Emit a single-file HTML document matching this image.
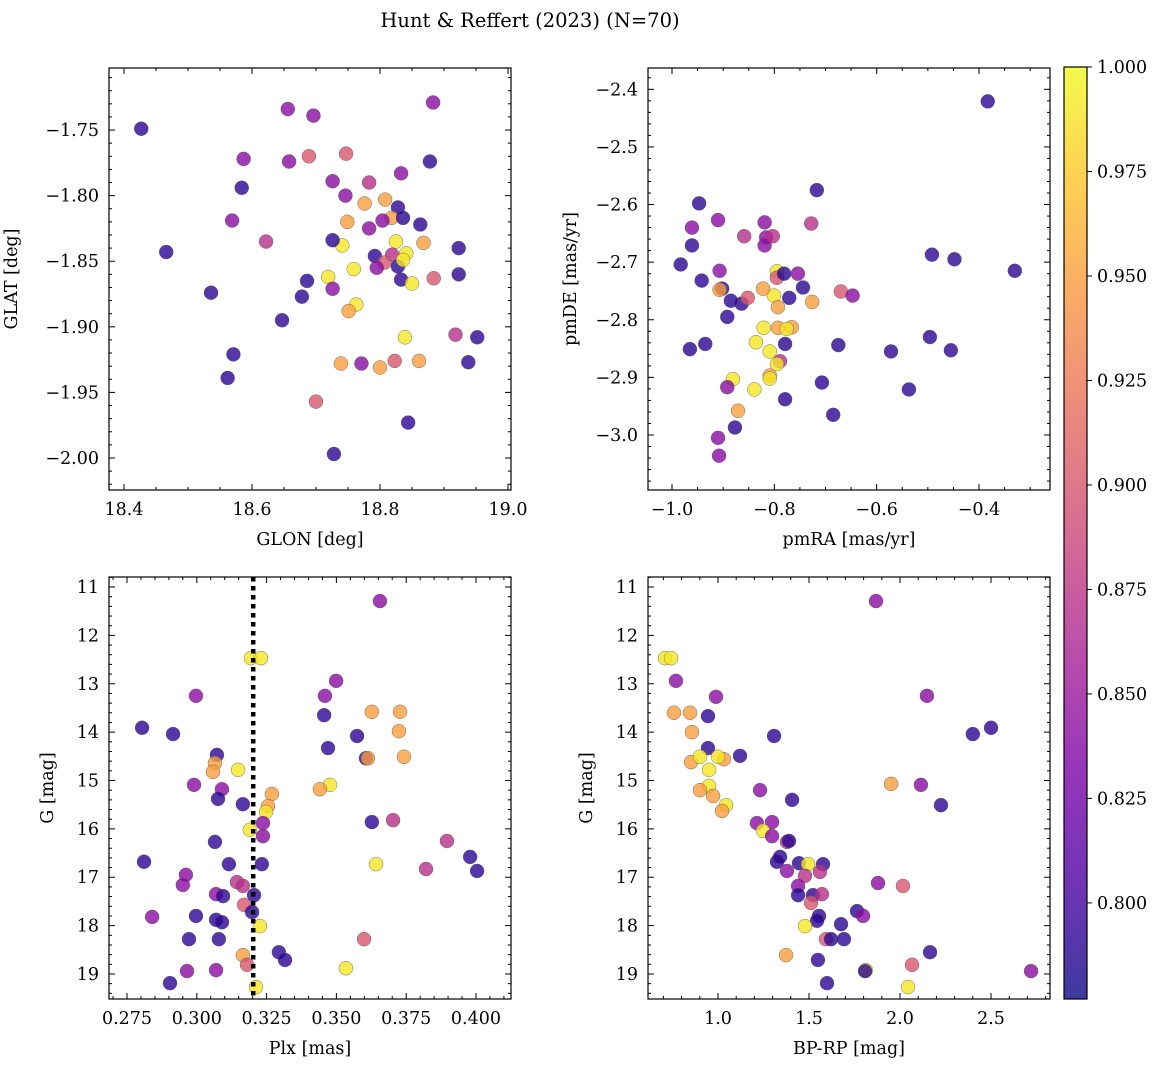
<!DOCTYPE html>
<html><head><meta charset="utf-8"><style>
body{margin:0;background:#fff}
svg text{font-family:"DejaVu Serif","Liberation Serif",serif;fill:#000}
</style></head><body>
<svg id="fig" width="1161" height="1067" viewBox="0 0 1161 1067" xmlns="http://www.w3.org/2000/svg">
<defs><linearGradient id="cbg" x1="0" y1="1" x2="0" y2="0">
<stop offset="0" stop-color="#0d0887" stop-opacity="0.8"/><stop offset="0.125" stop-color="#4c02a1" stop-opacity="0.8"/><stop offset="0.25" stop-color="#7e03a8" stop-opacity="0.8"/><stop offset="0.375" stop-color="#a92395" stop-opacity="0.8"/><stop offset="0.5" stop-color="#cc4778" stop-opacity="0.8"/><stop offset="0.625" stop-color="#e56b5d" stop-opacity="0.8"/><stop offset="0.75" stop-color="#f89441" stop-opacity="0.8"/><stop offset="0.875" stop-color="#fdc328" stop-opacity="0.8"/><stop offset="1" stop-color="#f0f921" stop-opacity="0.8"/>
</linearGradient></defs>
<text x="530" y="27" font-size="19.5" text-anchor="middle">Hunt &amp; Reffert (2023) (N=70)</text>
</svg>
<script>
const B=0.79,P=0.84,M=0.87,K=0.90,O=0.95,Y=0.99;
const glon=[18.427,18.883,18.656,18.696,18.587,18.658,18.689,18.747,18.726,18.783,18.833,18.878,18.584,18.746,18.569,18.808,18.776,18.828,18.749,18.818,18.836,18.863,18.804,18.783,18.622,18.825,18.868,18.741,18.726,18.923,18.466,18.792,18.819,18.841,18.807,18.795,18.759,18.828,18.836,18.833,18.719,18.686,18.923,18.884,18.726,18.678,18.850,18.536,18.763,18.751,18.647,18.839,18.918,18.952,18.571,18.739,18.771,18.800,18.823,18.861,18.938,18.562,18.700,18.844,18.728];
const glat=[-1.749,-1.729,-1.734,-1.739,-1.772,-1.774,-1.770,-1.768,-1.789,-1.790,-1.783,-1.774,-1.794,-1.800,-1.819,-1.803,-1.806,-1.809,-1.820,-1.817,-1.817,-1.822,-1.819,-1.825,-1.835,-1.835,-1.836,-1.838,-1.834,-1.840,-1.843,-1.846,-1.845,-1.844,-1.851,-1.855,-1.856,-1.854,-1.849,-1.864,-1.862,-1.865,-1.860,-1.863,-1.871,-1.877,-1.867,-1.874,-1.883,-1.888,-1.895,-1.908,-1.906,-1.908,-1.921,-1.928,-1.928,-1.931,-1.926,-1.926,-1.927,-1.939,-1.957,-1.973,-1.997];
const probA=[B,P,P,P,P,P,K,K,P,M,P,B,B,P,P,O,O,B,O,O,B,B,P,P,M,Y,O,Y,B,B,B,B,M,Y,K,P,Y,B,Y,B,Y,B,B,K,P,B,Y,B,Y,O,B,Y,M,B,B,O,P,O,K,O,B,B,K,B,B];
const pmra=[-0.383,-0.947,-0.717,-0.961,-0.910,-0.961,-0.983,-0.942,-0.859,-0.819,-0.819,-0.728,-0.816,-0.907,-0.902,-0.907,-0.864,-0.885,-0.892,-0.852,-0.795,-0.795,-0.781,-0.771,-0.801,-0.822,-0.793,-0.726,-0.744,-0.766,-0.821,-0.793,-0.776,-0.754,-0.779,-0.836,-0.809,-0.789,-0.795,-0.809,-0.809,-0.881,-0.892,-0.839,-0.871,-0.779,-0.877,-0.910,-0.908,-0.965,-0.935,-0.707,-0.685,-0.675,-0.803,-0.670,-0.647,-0.572,-0.537,-0.496,-0.455,-0.492,-0.448,-0.330];
const pmde=[-2.421,-2.598,-2.575,-2.671,-2.627,-2.640,-2.704,-2.732,-2.655,-2.671,-2.631,-2.633,-2.657,-2.715,-2.746,-2.748,-2.772,-2.767,-2.795,-2.762,-2.716,-2.727,-2.720,-2.762,-2.758,-2.746,-2.778,-2.769,-2.744,-2.813,-2.814,-2.814,-2.816,-2.720,-2.842,-2.839,-2.855,-2.872,-2.877,-2.897,-2.902,-2.903,-2.917,-2.921,-2.958,-2.938,-2.987,-3.005,-3.036,-2.851,-2.842,-2.909,-2.965,-2.844,-2.655,-2.751,-2.758,-2.855,-2.921,-2.830,-2.853,-2.687,-2.695,-2.715];
const probB=[B,B,B,B,P,P,B,B,M,P,P,M,P,P,B,O,B,B,B,K,Y,K,B,B,Y,O,O,O,B,O,Y,O,Y,P,B,Y,Y,M,Y,O,Y,Y,P,Y,O,B,B,P,P,B,B,B,B,B,M,K,P,B,B,B,B,B,B,B];
const plx=[0.3656,0.3194,0.3230,0.3499,0.2997,0.3459,0.3627,0.3728,0.3456,0.2804,0.2915,0.3724,0.3574,0.3470,0.3606,0.3613,0.3742,0.3072,0.3065,0.3058,0.3148,0.3477,0.2990,0.3441,0.3090,0.3269,0.3255,0.3076,0.3165,0.3248,0.3703,0.3627,0.3237,0.3190,0.3237,0.3065,0.3896,0.2811,0.3115,0.3233,0.3642,0.3979,0.4004,0.3821,0.2961,0.2950,0.3144,0.3165,0.3069,0.3094,0.3205,0.3169,0.3198,0.2997,0.2840,0.3069,0.3090,0.3226,0.2972,0.3079,0.3599,0.3165,0.3294,0.3180,0.3316,0.3534,0.2965,0.3069,0.2904,0.3212];
const gC=[11.29,12.47,12.47,12.94,13.25,13.25,13.58,13.58,13.65,13.91,14.04,13.98,14.08,14.33,14.54,14.54,14.51,14.47,14.64,14.82,14.78,15.09,15.09,15.18,15.18,15.28,15.53,15.38,15.49,15.65,15.82,15.86,15.88,16.02,16.15,16.27,16.25,16.68,16.73,16.73,16.73,16.58,16.87,16.83,16.95,17.16,17.10,17.18,17.35,17.39,17.37,17.57,17.72,17.80,17.82,17.88,17.93,18.01,18.28,18.28,18.28,18.61,18.55,18.81,18.71,18.88,18.94,18.92,19.19,19.27];
const probC=[P,Y,Y,P,P,P,O,O,B,B,B,O,B,B,B,O,O,B,O,O,Y,Y,P,O,P,O,O,B,B,Y,M,B,P,Y,P,B,M,B,B,B,Y,B,B,M,P,P,M,M,P,B,B,K,B,B,P,B,B,Y,B,B,K,O,B,K,B,Y,P,P,B,Y];
const bprp=[1.868,0.709,0.742,0.769,0.989,2.148,0.758,0.846,0.945,2.5,2.40,0.857,1.308,0.945,1.033,1.0,1.121,0.852,0.901,0.951,1.951,2.115,0.951,0.901,0.973,1.044,2.225,1.231,1.407,1.022,1.297,1.214,1.247,1.297,1.379,1.390,1.324,1.445,1.341,1.577,1.495,1.478,1.379,1.560,1.879,2.016,1.440,1.440,1.522,1.511,1.571,1.764,1.797,1.555,1.544,1.676,1.478,1.593,1.621,1.692,1.374,2.165,1.549,2.066,1.813,1.808,2.720,1.599,2.044];
const gD=[11.29,12.47,12.47,12.94,13.27,13.25,13.60,13.60,13.67,13.91,14.04,14.00,14.08,14.33,14.56,14.51,14.49,14.62,14.51,14.78,15.07,15.09,15.11,15.20,15.32,15.51,15.51,15.20,15.40,15.63,15.86,15.88,16.04,16.15,16.27,16.25,16.68,16.71,16.58,16.73,16.73,16.97,16.87,16.89,17.12,17.18,17.18,17.37,17.37,17.53,17.35,17.70,17.80,17.80,17.90,17.97,18.01,18.28,18.28,18.28,18.61,18.55,18.71,18.81,18.92,18.94,18.94,19.19,19.27];
const probD=[P,Y,Y,P,P,P,O,O,B,B,B,O,B,B,O,Y,B,O,Y,Y,O,P,Y,O,O,Y,B,P,B,O,P,P,Y,P,M,B,B,B,B,B,Y,M,P,M,P,K,P,B,B,K,M,B,P,B,B,B,Y,K,B,B,O,B,B,K,Y,B,P,B,Y];
const cbTicks=[0.800,0.825,0.850,0.875,0.900,0.925,0.950,0.975,1.000];
const plxLine=0.3202;

const svg=document.getElementById('fig');const NS='http://www.w3.org/2000/svg';
function el(t,a,p){const e=document.createElementNS(NS,t);for(const k in a)e.setAttribute(k,a[k]);(p||svg).appendChild(e);return e;}
const stops=[[13,8,135],[76,2,161],[126,3,168],[169,35,149],[204,71,120],[229,107,93],[248,148,65],[253,195,40],[240,249,33]];
const vmin=0.777,vmax=1.0;
function cmap(v){let t=Math.max(0,Math.min(1,(v-vmin)/(vmax-vmin)))*8;const i=Math.min(7,Math.floor(t)),f=t-i;const a=stops[i],b=stops[i+1];return 'rgb('+a.map((x,j)=>Math.round(x+(b[j]-x)*f)).join(',')+')';}
function panel(o){
 const g=el('g',{});
 const sx=v=>o.x0+(v-o.xr[0])/(o.xr[1]-o.xr[0])*(o.x1-o.x0);
 const sy=v=>o.inv? o.y0+(v-o.yr[0])/(o.yr[1]-o.yr[0])*(o.y1-o.y0) : o.y1-(v-o.yr[0])/(o.yr[1]-o.yr[0])*(o.y1-o.y0);
 const pts=el('g',{},g);
 for(let i=0;i<o.xs.length;i++){const c=el('circle',{cx:sx(o.xs[i]),cy:sy(o.ys[i]),r:7,fill:cmap(o.c[i]),'fill-opacity':0.8,stroke:'#555','stroke-width':0.4},pts);
  }
 if(o.vline!==undefined){const l=el('line',{x1:sx(o.vline),x2:sx(o.vline),y1:o.y0,y2:o.y1,stroke:'#000','stroke-width':4.5,'stroke-dasharray':'4.5,4.5'},g);}
 const fr=el('rect',{x:o.x0,y:o.y0,width:o.x1-o.x0,height:o.y1-o.y0,fill:'none',stroke:'#000','stroke-width':1.2},g);
 const eps=1e-9;
 for(let v=Math.ceil((o.xr[0])/o.xmn-eps)*o.xmn;v<=o.xr[1]+eps;v+=o.xmn){const X=sx(v);const maj=Math.abs(v/o.xmj-Math.round(v/o.xmj))<1e-6;const L=maj?6:3;
  el('line',{x1:X,x2:X,y1:o.y1,y2:o.y1-L,stroke:'#000'},g);el('line',{x1:X,x2:X,y1:o.y0,y2:o.y0+L,stroke:'#000'},g);}
 for(let v=Math.ceil(Math.min(...o.yr)/o.ymn-eps)*o.ymn;v<=Math.max(...o.yr)+eps;v+=o.ymn){const Yp=sy(v);const maj=Math.abs(v/o.ymj-Math.round(v/o.ymj))<1e-6;const L=maj?6:3;
  el('line',{x1:o.x0,x2:o.x0+L,y1:Yp,y2:Yp,stroke:'#000'},g);el('line',{x1:o.x1,x2:o.x1-L,y1:Yp,y2:Yp,stroke:'#000'},g);}
 o.xt.forEach(v=>{const t=el('text',{x:sx(v),y:o.y1+25,'font-size':17.5,'text-anchor':'middle'},g);t.textContent=o.xf(v);});
 o.yt.forEach(v=>{const t=el('text',{x:o.x0-10,y:sy(v)+6,'font-size':17.5,'text-anchor':'end'},g);t.textContent=o.yf(v);});
 const xl=el('text',{x:(o.x0+o.x1)/2,y:o.y1+55,'font-size':17.5,'text-anchor':'middle'},g);xl.textContent=o.xlab;
 const yx=o.x0-o.ylo,ym=(o.y0+o.y1)/2;const yl=el('text',{x:yx,y:ym,'font-size':17.5,'text-anchor':'middle',transform:'rotate(-90 '+yx+' '+ym+')'},g);yl.textContent=o.ylab;
}
panel({name:'glon-glat-panel',x0:109,x1:511,y0:68,y1:490,xr:[18.3766,19.0047],yr:[-2.0244,-1.7027],xs:glon,ys:glat,c:probA,xmj:0.2,xmn:0.05,ymj:0.05,ymn:0.01,
 xt:[18.4,18.6,18.8,19.0],xf:v=>v.toFixed(1),yt:[-2.0,-1.95,-1.9,-1.85,-1.8,-1.75],yf:v=>'\u2212'+Math.abs(v).toFixed(2),xlab:'GLON [deg]',ylab:'GLAT [deg]',ylo:92});
panel({name:'proper-motion-panel',x0:648,x1:1050,y0:68,y1:490,xr:[-1.0469,-0.2613],yr:[-3.0955,-2.363],xs:pmra,ys:pmde,c:probB,xmj:0.2,xmn:0.05,ymj:0.1,ymn:0.02,
 xt:[-1.0,-0.8,-0.6,-0.4],xf:v=>'\u2212'+Math.abs(v).toFixed(1),yt:[-3.0,-2.9,-2.8,-2.7,-2.6,-2.5,-2.4],yf:v=>'\u2212'+Math.abs(v).toFixed(1),xlab:'pmRA [mas/yr]',ylab:'pmDE [mas/yr]',ylo:72});
panel({name:'parallax-magnitude-panel',x0:109,x1:511,y0:577,y1:999,xr:[0.26855,0.41254],yr:[10.793,19.517],inv:true,xs:plx,ys:gC,c:probC,vline:plxLine,xmj:0.025,xmn:0.005,ymj:1,ymn:0.2,
 xt:[0.275,0.3,0.325,0.35,0.375,0.4],xf:v=>v.toFixed(3),yt:[11,12,13,14,15,16,17,18,19],yf:v=>String(v),xlab:'Plx [mas]',ylab:'G [mag]',ylo:56});
panel({name:'color-magnitude-panel',x0:648,x1:1050,y0:577,y1:999,xr:[0.6154,2.824],yr:[10.793,19.517],inv:true,xs:bprp,ys:gD,c:probD,xmj:0.5,xmn:0.1,ymj:1,ymn:0.2,
 xt:[1.0,1.5,2.0,2.5],xf:v=>v.toFixed(1),yt:[11,12,13,14,15,16,17,18,19],yf:v=>String(v),xlab:'BP-RP [mag]',ylab:'G [mag]',ylo:56});
const cb=el('g',{});
const cy0=67,cy1=999,cx0=1064,cx1=1087;
el('rect',{x:cx0,y:cy0,width:cx1-cx0,height:cy1-cy0,fill:'url(#cbg)',stroke:'#000','stroke-width':1.2},cb);
const cys=v=>cy1-(v-vmin)/(vmax-vmin)*(cy1-cy0);
cbTicks.forEach(v=>{const Y0=cys(v);el('line',{x1:cx1,x2:cx1+5,y1:Y0,y2:Y0,stroke:'#000'},cb);
 const t=el('text',{x:cx1+10,y:Y0+6,'font-size':17.5},cb);t.textContent=v.toFixed(3);});
</script>
</body></html>
